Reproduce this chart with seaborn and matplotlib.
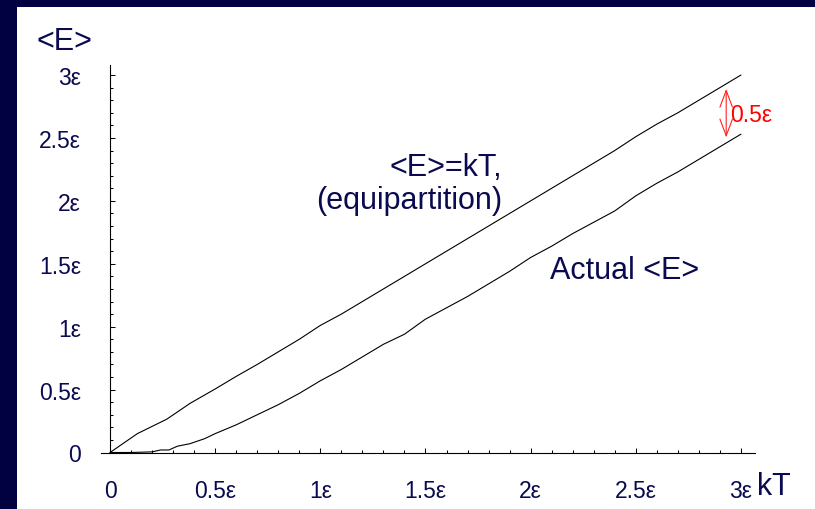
import matplotlib
matplotlib.use("Agg")
import matplotlib.pyplot as plt
from matplotlib.patches import Rectangle
from matplotlib.ticker import FixedLocator, MultipleLocator
import pandas as pd
import seaborn as sns

# Equipartition line <E> = kT
kT_equi = [0, 0.13, 0.27, 0.38, 0.5, 0.6, 0.7, 0.8, 0.9, 1.0, 1.1, 1.2, 1.3, 1.4,
           1.5, 1.6, 1.7, 1.8, 1.9, 2.0, 2.1, 2.2, 2.3, 2.4, 2.5, 2.6, 2.7, 2.8,
           2.9, 3.0]
E_equi = [0, 0.15, 0.265, 0.39, 0.505, 0.605, 0.70, 0.80, 0.90, 1.01, 1.10, 1.20,
          1.30, 1.40, 1.50, 1.60, 1.70, 1.80, 1.90, 2.00, 2.10, 2.20, 2.30, 2.40,
          2.51, 2.61, 2.70, 2.80, 2.90, 3.00]

# Actual mean energy
kT_actual = [0, 0.1, 0.2, 0.24, 0.28, 0.32, 0.38, 0.45, 0.5, 0.6, 0.7, 0.8, 0.9,
             1.0, 1.1, 1.2, 1.3, 1.4, 1.5, 1.6, 1.7, 1.8, 1.9, 2.0, 2.1, 2.2, 2.3,
             2.4, 2.5, 2.6, 2.7, 2.8, 2.9, 3.0]
E_actual = [0, 0.0, 0.005, 0.02, 0.02, 0.05, 0.07, 0.11, 0.15, 0.22, 0.30, 0.38,
            0.47, 0.57, 0.66, 0.76, 0.86, 0.94, 1.06, 1.15, 1.24, 1.34, 1.44, 1.55,
            1.64, 1.74, 1.83, 1.92, 2.04, 2.14, 2.23, 2.33, 2.43, 2.53]

tick_values = [0, 0.5, 1.0, 1.5, 2.0, 2.5, 3.0]
tick_labels = ["0", "0.5ε", "1ε", "1.5ε", "2ε", "2.5ε", "3ε"]

# Offset marker between the two curves
gap_kT = 2.93
gap_top = 2.89
gap_bottom = 2.505
gap_label = "0.5ε"

navy = "#0a0a50"
slide_bg = "#010142"

sns.set_style("white")
plt.rcParams["font.family"] = ["Liberation Sans", "DejaVu Sans"]

fig = plt.figure(figsize=(8.15, 5.10), dpi=100, facecolor=slide_bg)
fig.patches.append(Rectangle((17 / 815, 0), 1 - 17 / 815, 1 - 8 / 510,
                             transform=fig.transFigure, facecolor="white",
                             edgecolor="none", zorder=-10))

ax = fig.add_axes([101 / 815, 1 - 453.5 / 510, (755 - 101) / 815, (453.5 - 66) / 510])
ax.set_facecolor("none")
ax.set_zorder(2)

df = pd.concat([
    pd.DataFrame({"kT": kT_equi, "E": E_equi, "curve": "equipartition"}),
    pd.DataFrame({"kT": kT_actual, "E": E_actual, "curve": "actual"}),
])
sns.lineplot(data=df, x="kT", y="E", hue="curve", units="curve", estimator=None,
             palette={"equipartition": "black", "actual": "black"},
             linewidth=0.8, legend=False, ax=ax, sort=False)

ax.set_xlim(-0.043, 3.067)
ax.set_ylim(0, 3.08)
ax.set_xlabel("")
ax.set_ylabel("")

for side in ("top", "right"):
    ax.spines[side].set_visible(False)
ax.spines["left"].set_position(("data", 0))
for side in ("left", "bottom"):
    ax.spines[side].set_color("black")
    ax.spines[side].set_linewidth(0.8)

ax.xaxis.set_major_locator(FixedLocator(tick_values))
ax.yaxis.set_major_locator(FixedLocator(tick_values))
ax.set_xticklabels(tick_labels)
ax.set_yticklabels(tick_labels)
ax.xaxis.set_minor_locator(MultipleLocator(0.1))
ax.yaxis.set_minor_locator(MultipleLocator(0.1))
ax.tick_params(which="both", direction="in", color="black", width=0.75,
               bottom=True, left=True, labelcolor=navy, labelsize=16.5)
ax.tick_params(which="major", length=3.8)
ax.tick_params(which="minor", length=2.2)
ax.tick_params(axis="x", which="major", pad=19)
ax.tick_params(axis="y", which="major", pad=21)

# Curve captions
ax.text(1.864, 2.206, "<E>=kT,", ha="right", va="baseline", color=navy, fontsize=22)
ax.text(1.864, 1.943, "(equipartition)", ha="right", va="baseline", color=navy, fontsize=22)
ax.text(2.092, 1.387, "Actual <E>", ha="left", va="baseline", color=navy, fontsize=22)

# Gap arrow and its label
ax.annotate("", xy=(gap_kT, gap_top), xytext=(gap_kT, gap_bottom),
            arrowprops=dict(arrowstyle="<->,head_length=1.2,head_width=0.45",
                            color="#ff2020", lw=0.8, shrinkA=0, shrinkB=0))
ax.text(2.948, 2.635, gap_label, ha="left", va="baseline", color="#ff0000", fontsize=16.5)

# Axis titles
fig.text(36 / 815, 1 - 50 / 510, "<E>", ha="left", va="baseline", color=navy, fontsize=22)
fig.text(757 / 815, 1 - 495 / 510, "kT", ha="left", va="baseline", color=navy, fontsize=22)

fig.savefig("out.png", dpi=100, facecolor=slide_bg)
